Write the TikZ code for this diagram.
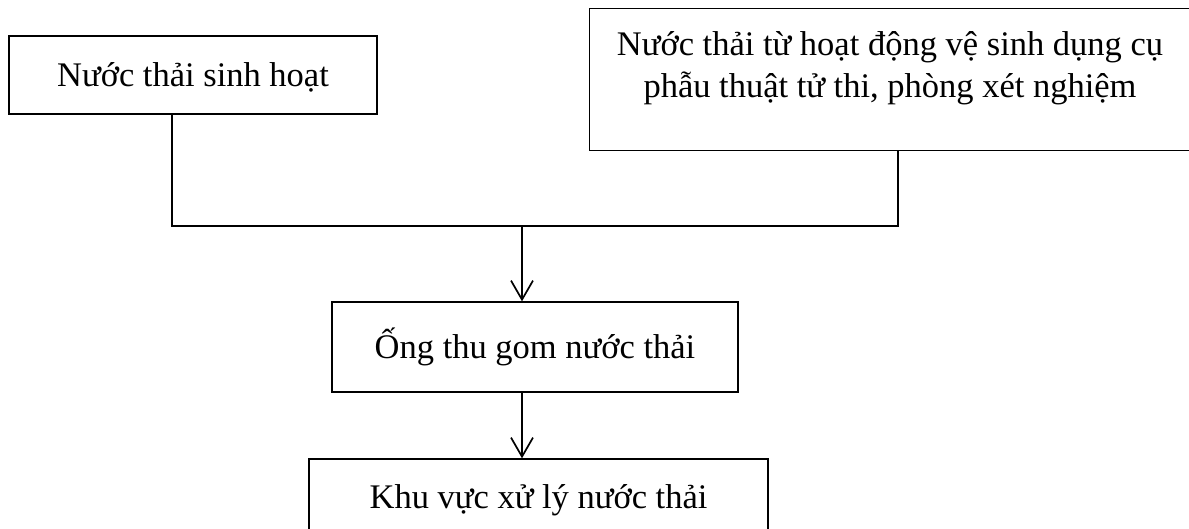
\documentclass[tikz,border=0pt]{standalone}
\usepackage{fontspec}
\setmainfont{Liberation Serif}
\usetikzlibrary{arrows.meta}
\tikzset{
  box/.style={draw, line width=1.4pt, inner sep=0pt, text height=28pt, text depth=6pt},
  lbl/.style={inner sep=0pt, align=center},
  conn/.style={line width=1.4pt},
  arr/.style={line width=1.7pt, -{Straight Barb[length=19pt,width=22pt,line width=1.7pt]}}
}
\begin{document}
\begin{tikzpicture}[x=1pt,y=-1pt,font=\fontsize{34.5pt}{42pt}\selectfont]
\useasboundingbox (0,0) rectangle (1189,528);
\node[box, minimum width=368pt, minimum height=78pt] (b1) at (193,75) {Nước thải sinh hoạt};
\node[draw, line width=1.4pt, inner sep=0pt, minimum width=620pt, minimum height=142pt, anchor=north west] (b2) at (589,8) {};
\node[lbl, anchor=base] (t2) at (890,97) {Nước thải từ hoạt động vệ sinh dụng cụ\\phẫu thuật tử thi, phòng xét nghiệm};
\node[box, minimum width=406pt, minimum height=90pt] (b3) at (535,347) {Ống thu gom nước thải};
\node[box, minimum width=459pt, minimum height=76pt] (b4) at (538.5,497) {Khu vực xử lý nước thải};
\coordinate (jl) at (172,226);
\coordinate (jr) at (898,226);
\coordinate (jm) at (522,226);
\draw[conn] (b1.south -| jl) -- (jl) -- (jr) -- (b2.south -| jr);
\draw[arr] (jm) -- (b3.north -| jm);
\draw[arr] (b3.south -| jm) -- (b4.north -| jm);
\end{tikzpicture}
\end{document}
